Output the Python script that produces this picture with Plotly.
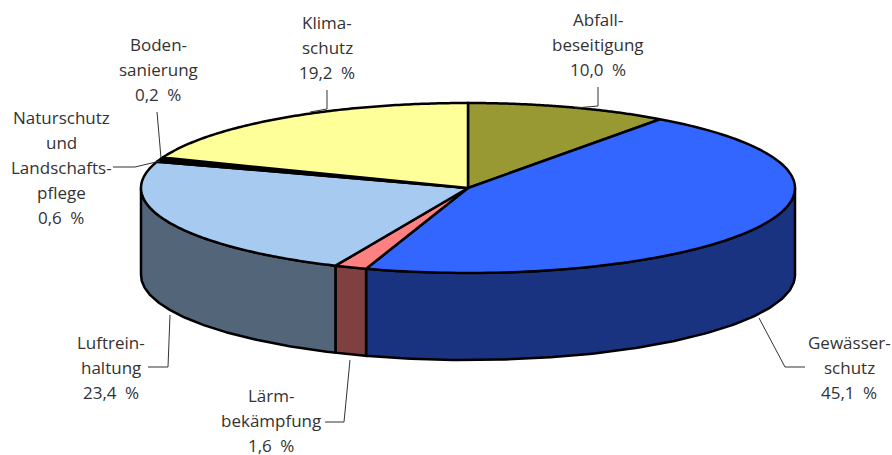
import numpy as np
import plotly.graph_objects as go

# Umweltschutz shares, clockwise from 12 o'clock
categories = ["Abfallbeseitigung", "Gewässerschutz", "Lärmbekämpfung", "Luftreinhaltung",
              "Naturschutz und Landschaftspflege", "Bodensanierung", "Klimaschutz"]
values = [10.0, 45.1, 1.6, 23.4, 0.6, 0.2, 19.2]
top_colors = ["#999933", "#3366FF", "#FF8080", "#A6CAF0", "#000000", "#006600", "#FFFF99"]
side_colors = ["#4D4D1A", "#1A3380", "#804040", "#536579", "#000000", "#003300", "#808050"]

label_lines = [
    ["Abfall-", "beseitigung", "10,0\u2002%"],
    ["Gewässer-", "schutz", "45,1\u2002%"],
    ["Lärm-", "bekämpfung", "1,6\u2002%"],
    ["Luftrein-", "haltung", "23,4\u2002%"],
    ["Naturschutz", "und", "Landschafts-", "pflege", "0,6\u2002%"],
    ["Boden-", "sanierung", "0,2\u2002%"],
    ["Klima-", "schutz", "19,2\u2002%"],
]
label_x = [598, 849, 271, 111, 61, 158, 327]
label_top = [19, 342, 395, 342, 117, 44, 22]

leaders = [
    ([598, 598, 575], [87, 106, 108]),
    ([759, 785, 805], [318, 367, 367]),
    ([350, 344, 325], [360, 422, 422]),
    ([170, 168, 148], [315, 367, 367]),
    ([113, 135, 160], [167, 167, 161]),
    ([157, 161], [112, 158]),
    ([327, 327, 310], [90, 109, 112]),
]

cx, cy = 468, 188
rx, ry = 327, 85
depth = 87
line_gap = 25
W, H = 892, 455


def rim(t0, t1, n=120):
    t = np.radians(np.linspace(t0, t1, n))
    return cx + rx * np.sin(t), cy - ry * np.cos(t)


fig = go.Figure()
edges = np.concatenate([[0], np.cumsum(values)]) / sum(values) * 360

for name, t0, t1, col in zip(categories, edges[:-1], edges[1:], side_colors):
    # only the front half of the wall is visible
    a, b = max(t0, 90), min(t1, 270)
    if a >= b:
        continue
    x, y = rim(a, b)
    fig.add_trace(go.Scatter(
        x=np.concatenate([x, x[::-1], x[:1]]),
        y=np.concatenate([y, y[::-1] + depth, y[:1]]),
        mode="lines", fill="toself", fillcolor=col, name=name,
        line=dict(color="black", width=2.5), hoverinfo="skip"))

for name, t0, t1, col in zip(categories, edges[:-1], edges[1:], top_colors):
    x, y = rim(t0, t1)
    fig.add_trace(go.Scatter(
        x=np.concatenate([[cx], x, [cx]]),
        y=np.concatenate([[cy], y, [cy]]),
        mode="lines", fill="toself", fillcolor=col, name=name,
        line=dict(color="black", width=2.5, simplify=False), hoverinfo="skip"))

for lx, ly in leaders:
    fig.add_trace(go.Scatter(x=lx, y=ly, mode="lines",
                             line=dict(color="#333333", width=1), hoverinfo="skip"))

for lines, x0, y0 in zip(label_lines, label_x, label_top):
    for i, txt in enumerate(lines):
        fig.add_annotation(x=x0, y=y0 + i * line_gap, text=txt, showarrow=False,
                           xanchor="center", yanchor="middle",
                           font=dict(family="Open Sans", size=17, color="#333333"))

fig.update_xaxes(range=[0, W], visible=False, fixedrange=True)
fig.update_yaxes(range=[H, 0], visible=False, fixedrange=True)
fig.update_layout(width=W, height=H, margin=dict(l=0, r=0, t=0, b=0), showlegend=False,
                  paper_bgcolor="white", plot_bgcolor="white")

fig.write_html("out.html", config=dict(displayModeBar=False),
               post_script="document.body.style.margin='0';")
